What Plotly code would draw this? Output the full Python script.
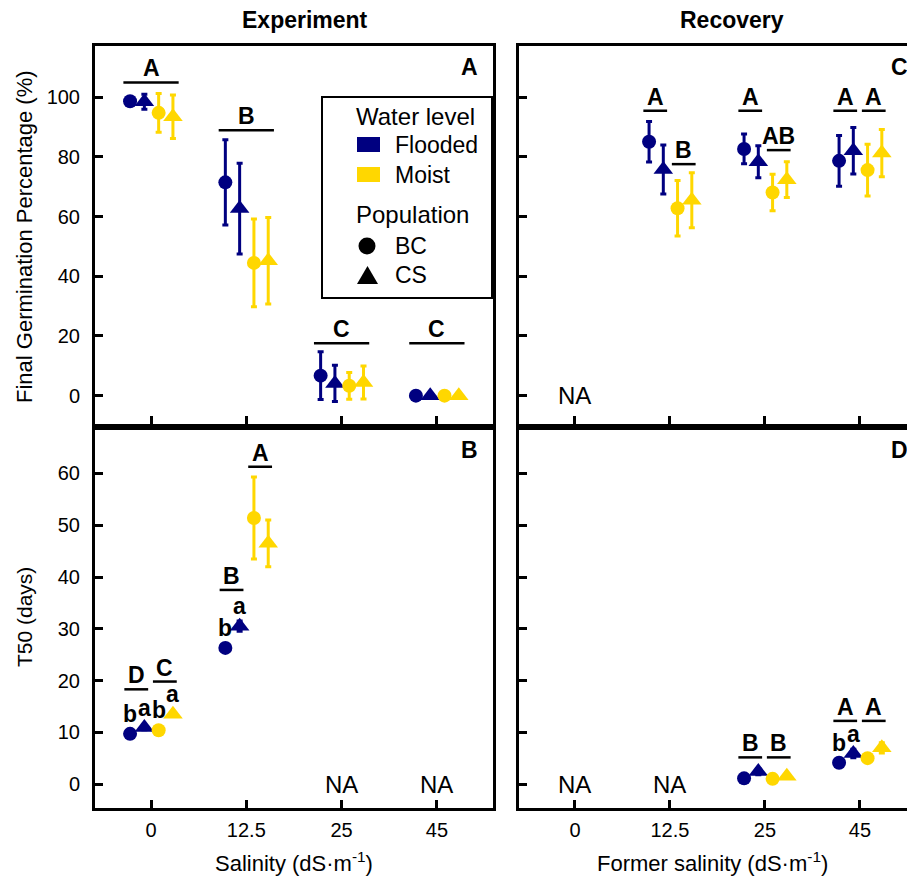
import plotly.graph_objects as go

# ---------------- data ----------------
CATEGORIES = ["0", "12.5", "25", "45"]
SERIES = ["Flooded BC", "Flooded CS", "Moist BC", "Moist CS"]

# Final germination percentage (%) - Experiment
FGP_EXP_FLOODED_BC = [98.7, 71.5, 6.7, 0.0]
FGP_EXP_FLOODED_BC_ERR = [0.8, 14.3, 8.0, 0.0]
FGP_EXP_FLOODED_CS = [98.5, 62.7, 4.1, 0.0]
FGP_EXP_FLOODED_CS_ERR = [2.5, 15.2, 6.1, 0.0]
FGP_EXP_MOIST_BC = [94.8, 44.5, 3.3, 0.0]
FGP_EXP_MOIST_BC_ERR = [6.5, 14.7, 4.5, 0.0]
FGP_EXP_MOIST_CS = [93.5, 45.2, 4.4, 0.0]
FGP_EXP_MOIST_CS_ERR = [7.3, 14.5, 5.5, 0.0]

# Final germination percentage (%) - Recovery
FGP_REC_FLOODED_BC = [None, 85.1, 82.7, 78.7]
FGP_REC_FLOODED_BC_ERR = [0, 6.8, 5.0, 8.5]
FGP_REC_FLOODED_CS = [None, 75.8, 78.4, 82.1]
FGP_REC_FLOODED_CS_ERR = [0, 8.2, 5.4, 7.8]
FGP_REC_MOIST_BC = [None, 62.8, 68.1, 75.6]
FGP_REC_MOIST_BC_ERR = [0, 9.3, 6.1, 8.7]
FGP_REC_MOIST_CS = [None, 65.5, 72.4, 81.3]
FGP_REC_MOIST_CS_ERR = [0, 9.2, 6.0, 7.9]

# T50 (days) - Experiment
T50_EXP_FLOODED_BC = [9.7, 26.3, None, None]
T50_EXP_FLOODED_BC_ERR = [0.3, 0.4, 0, 0]
T50_EXP_FLOODED_CS = [10.9, 30.5, None, None]
T50_EXP_FLOODED_CS_ERR = [0.4, 1.0, 0, 0]
T50_EXP_MOIST_BC = [10.4, 51.4, None, None]
T50_EXP_MOIST_BC_ERR = [0.3, 7.9, 0, 0]
T50_EXP_MOIST_CS = [13.5, 46.5, None, None]
T50_EXP_MOIST_CS_ERR = [0.4, 4.5, 0, 0]

# T50 (days) - Recovery
T50_REC_FLOODED_BC = [None, None, 1.1, 4.1]
T50_REC_FLOODED_BC_ERR = [0, 0, 0.3, 0.4]
T50_REC_FLOODED_CS = [None, None, 2.4, 5.9]
T50_REC_FLOODED_CS_ERR = [0, 0, 0.6, 0.8]
T50_REC_MOIST_BC = [None, None, 1.0, 5.0]
T50_REC_MOIST_BC_ERR = [0, 0, 0.3, 0.4]
T50_REC_MOIST_CS = [None, None, 1.5, 7.0]
T50_REC_MOIST_CS_ERR = [0, 0, 0.4, 1.0]

# significance letters (uppercase, underlined) and their heights
SIG_FGP_EXP_ALL = ["A", "B", "C", "C"]
SIG_FGP_EXP_ALL_Y = [105, 89, 17.6, 17.6]
SIG_FGP_REC_FLOODED = [None, "A", "A", "A"]
SIG_FGP_REC_FLOODED_Y = [None, 95.5, 95.5, 95.5]
SIG_FGP_REC_MOIST = [None, "B", "AB", "A"]
SIG_FGP_REC_MOIST_Y = [None, 77.6, 82.3, 95.5]
SIG_T50_EXP_FLOODED = ["D", "B", None, None]
SIG_T50_EXP_FLOODED_Y = [18.3, 37.5, None, None]
SIG_T50_EXP_MOIST = ["C", "A", None, None]
SIG_T50_EXP_MOIST_Y = [19.8, 61.3, None, None]
SIG_T50_REC_FLOODED = [None, None, "B", "A"]
SIG_T50_REC_FLOODED_Y = [None, None, 5.15, 12.2]
SIG_T50_REC_MOIST = [None, None, "B", "A"]
SIG_T50_REC_MOIST_Y = [None, None, 5.15, 12.2]

# population letters (lowercase) per series
POP_T50_EXP = [["b", "b", None, None], ["a", "a", None, None],
               ["b", None, None, None], ["a", None, None, None]]
POP_T50_REC = [[None, None, None, "b"], [None, None, None, "a"],
               [None, None, None, None], [None, None, None, None]]

NA_FGP_REC = [True, False, False, False]
NA_T50_EXP = [False, False, True, True]
NA_T50_REC = [True, True, False, False]

# ---------------- style ----------------
W, H = 907, 879
NAVY = "#000080"
GOLD = "#FFD700"
COLORS = [NAVY, NAVY, GOLD, GOLD]
SYMBOLS = ["circle", "triangle-up", "circle", "triangle-up"]
SIZES = [14, 17, 14, 17]
DODGE = [-0.22, -0.07, 0.08, 0.23]
FONT = "Liberation Sans, Arial, sans-serif"


def px(x):
    return x / W


def py(y):
    return 1 - y / H


LEFT = [px(95), px(493)]
RIGHT = [px(519), 1.0]
TOP = [py(424), py(46)]
BOT = [py(808), py(430)]

fig = go.Figure()

panels = [
    ("x", "y", [FGP_EXP_FLOODED_BC, FGP_EXP_FLOODED_CS, FGP_EXP_MOIST_BC, FGP_EXP_MOIST_CS],
     [FGP_EXP_FLOODED_BC_ERR, FGP_EXP_FLOODED_CS_ERR, FGP_EXP_MOIST_BC_ERR, FGP_EXP_MOIST_CS_ERR]),
    ("x2", "y2", [FGP_REC_FLOODED_BC, FGP_REC_FLOODED_CS, FGP_REC_MOIST_BC, FGP_REC_MOIST_CS],
     [FGP_REC_FLOODED_BC_ERR, FGP_REC_FLOODED_CS_ERR, FGP_REC_MOIST_BC_ERR, FGP_REC_MOIST_CS_ERR]),
    ("x3", "y3", [T50_EXP_FLOODED_BC, T50_EXP_FLOODED_CS, T50_EXP_MOIST_BC, T50_EXP_MOIST_CS],
     [T50_EXP_FLOODED_BC_ERR, T50_EXP_FLOODED_CS_ERR, T50_EXP_MOIST_BC_ERR, T50_EXP_MOIST_CS_ERR]),
    ("x4", "y4", [T50_REC_FLOODED_BC, T50_REC_FLOODED_CS, T50_REC_MOIST_BC, T50_REC_MOIST_CS],
     [T50_REC_FLOODED_BC_ERR, T50_REC_FLOODED_CS_ERR, T50_REC_MOIST_BC_ERR, T50_REC_MOIST_CS_ERR]),
]

for xa, ya, means, errs in panels:
    for i, (m, e) in enumerate(zip(means, errs)):
        xs = [c + DODGE[i] for c in range(len(CATEGORIES))]
        fig.add_trace(go.Scatter(
            x=xs, y=m, mode="markers", name=SERIES[i], xaxis=xa, yaxis=ya,
            marker=dict(symbol=SYMBOLS[i], size=SIZES[i], color=COLORS[i], line=dict(width=0)),
            error_y=dict(type="data", array=e, visible=True, thickness=3, width=3, color=COLORS[i]),
            showlegend=False, hoverinfo="skip"))

annotations = []
shapes = []
LETTER_FONT = dict(family=FONT, size=23, color="black")


def sig(xref, yref, letters, ys, center, half):
    for c, (lab, yv) in enumerate(zip(letters, ys)):
        if lab is None:
            continue
        x0 = c + center
        shapes.append(dict(type="line", xref=xref, yref=yref, x0=x0 - half, x1=x0 + half,
                           y0=yv, y1=yv, line=dict(color="black", width=2.5)))
        annotations.append(dict(xref=xref, yref=yref, x=x0, y=yv, text="<b>%s</b>" % lab,
                                showarrow=False, yanchor="bottom", xanchor="center",
                                yshift=-1, font=LETTER_FONT))


FLOOD_C = (DODGE[0] + DODGE[1]) / 2
MOIST_C = (DODGE[2] + DODGE[3]) / 2
sig("x", "y", SIG_FGP_EXP_ALL, SIG_FGP_EXP_ALL_Y, 0.0, 0.29)
sig("x2", "y2", SIG_FGP_REC_FLOODED, SIG_FGP_REC_FLOODED_Y, FLOOD_C - 0.01, 0.125)
sig("x2", "y2", SIG_FGP_REC_MOIST, SIG_FGP_REC_MOIST_Y, MOIST_C - 0.01, 0.125)
sig("x3", "y3", SIG_T50_EXP_FLOODED, SIG_T50_EXP_FLOODED_Y, FLOOD_C - 0.01, 0.125)
sig("x3", "y3", SIG_T50_EXP_MOIST, SIG_T50_EXP_MOIST_Y, MOIST_C - 0.01, 0.125)
sig("x4", "y4", SIG_T50_REC_FLOODED, SIG_T50_REC_FLOODED_Y, FLOOD_C - 0.01, 0.125)
sig("x4", "y4", SIG_T50_REC_MOIST, SIG_T50_REC_MOIST_Y, MOIST_C - 0.01, 0.125)


def pop(xref, yref, letters, means):
    for i, row in enumerate(letters):
        for c, lab in enumerate(row):
            if lab is None:
                continue
            annotations.append(dict(xref=xref, yref=yref, x=c + DODGE[i], y=means[i][c],
                                    text="<b>%s</b>" % lab, showarrow=False, yanchor="middle",
                                    xanchor="center", yshift=20, font=LETTER_FONT))


pop("x3", "y3", POP_T50_EXP, panels[2][2])
pop("x4", "y4", POP_T50_REC, panels[3][2])


def na(xref, yref, flags):
    for c, f in enumerate(flags):
        if f:
            annotations.append(dict(xref=xref, yref=yref, x=c, y=0, text="NA", showarrow=False,
                                    yanchor="middle", xanchor="center",
                                    font=dict(family=FONT, size=24, color="black")))


na("x2", "y2", NA_FGP_REC)
na("x3", "y3", NA_T50_EXP)
na("x4", "y4", NA_T50_REC)


def ptext(x, y, text, size, xanchor="center", angle=0, bold=False):
    annotations.append(dict(xref="paper", yref="paper", x=px(x), y=py(y),
                            text=("<b>%s</b>" % text) if bold else text, showarrow=False,
                            xanchor=xanchor, yanchor="middle", textangle=angle,
                            font=dict(family=FONT, size=size, color="black")))


# panel labels
ptext(469, 67, "A", 23, bold=True)
ptext(470, 450, "B", 23, bold=True)
ptext(899, 67, "C", 23, bold=True)
ptext(899, 450, "D", 23, bold=True)
# column titles
ptext(305, 20, "Experiment", 23, bold=True)
ptext(732, 20, "Recovery", 23, bold=True)
# axis titles
ptext(294, 862, "Salinity (dS·m<sup>-1</sup>)", 22)
ptext(712, 862, "Former salinity (dS·m<sup>-1</sup>)", 22)
ptext(24, 237, "Final Germination Percentage (%)", 22, angle=-90)
ptext(24, 617, "T50 (days)", 21, angle=-90)

# legend (drawn in paper space)
shapes.append(dict(type="rect", xref="paper", yref="paper", x0=px(322), x1=px(492),
                   y0=py(298), y1=py(97), line=dict(color="black", width=2), fillcolor="white",
                   layer="above"))
ptext(354, 117, "Water level", 24, xanchor="left")
shapes.append(dict(type="rect", xref="paper", yref="paper", x0=px(357), x1=px(380),
                   y0=py(152), y1=py(137), line=dict(width=0), fillcolor=NAVY, layer="above"))
ptext(393, 145, "Flooded", 23, xanchor="left")
shapes.append(dict(type="rect", xref="paper", yref="paper", x0=px(357), x1=px(380),
                   y0=py(182), y1=py(167), line=dict(width=0), fillcolor=GOLD, layer="above"))
ptext(393, 175, "Moist", 23, xanchor="left")
ptext(354, 215, "Population", 24, xanchor="left")
shapes.append(dict(type="circle", xref="paper", yref="paper", x0=px(358.5), x1=px(375.5),
                   y0=py(254.5), y1=py(237.5), line=dict(width=0), fillcolor="black", layer="above"))
ptext(393, 246, "BC", 23, xanchor="left")
shapes.append(dict(type="path", xref="paper", yref="paper",
                   path="M %f,%f L %f,%f L %f,%f Z" % (px(357), py(284), px(378), py(284), px(367.5), py(266)),
                   line=dict(width=0), fillcolor="black", layer="above"))
ptext(393, 275, "CS", 23, xanchor="left")


def xaxis(domain, rng, anchor, labels):
    return dict(domain=domain, range=rng, anchor=anchor, tickvals=[0, 1, 2, 3], ticktext=CATEGORIES,
                showticklabels=labels, ticks="inside", ticklen=8, tickwidth=3, tickcolor="black",
                showline=True, linewidth=3, linecolor="black", mirror=True, showgrid=False,
                zeroline=False, ticklabelstandoff=2,
                tickfont=dict(family=FONT, size=20, color="black"))


def yaxis(domain, rng, anchor, vals, labels, mirror):
    return dict(domain=domain, range=rng, anchor=anchor, tickvals=vals, showticklabels=labels,
                ticks="inside", ticklen=8, tickwidth=3, tickcolor="black", showline=True,
                linewidth=3, linecolor="black", mirror=mirror, showgrid=False, zeroline=False,
                ticklabelstandoff=8, tickfont=dict(family=FONT, size=20, color="black"))


XL = [-0.588, 3.589]
XR = [-0.589, 3.495]
YT = [-9.5, 117.2]
YB = [-4.63, 68.4]
FGP_TICKS = [0, 20, 40, 60, 80, 100]
T50_TICKS = [0, 10, 20, 30, 40, 50, 60]

fig.update_layout(
    width=W, height=H, margin=dict(l=0, r=0, t=0, b=0),
    paper_bgcolor="white", plot_bgcolor="white", showlegend=False,
    font=dict(family=FONT, color="black"),
    xaxis=xaxis(LEFT, XL, "y", False),
    yaxis=yaxis(TOP, YT, "x", FGP_TICKS, True, True),
    xaxis2=xaxis(RIGHT, XR, "y2", False),
    yaxis2=yaxis(TOP, YT, "x2", FGP_TICKS, False, False),
    xaxis3=xaxis(LEFT, XL, "y3", True),
    yaxis3=yaxis(BOT, YB, "x3", T50_TICKS, True, True),
    xaxis4=xaxis(RIGHT, XR, "y4", True),
    yaxis4=yaxis(BOT, YB, "x4", T50_TICKS, False, False),
    annotations=annotations, shapes=shapes,
)

fig.write_html("out.html")
